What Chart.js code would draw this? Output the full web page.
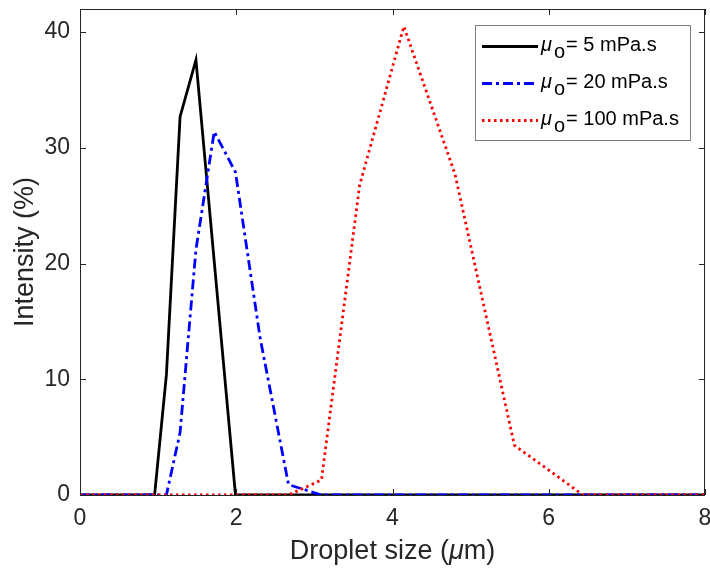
<!DOCTYPE html>
<html>
<head>
<meta charset="utf-8">
<script src="https://cdn.jsdelivr.net/npm/chart.js@4.4.0/dist/chart.umd.min.js"></script>
<style>
  html, body { margin: 0; padding: 0; background: #fff; }
  #wrap { width: 710px; height: 568px; }
</style>
</head>
<body>
<div id="wrap"><canvas id="chart" width="710" height="568"></canvas></div>
<script>
// droplet size bins (um) and intensity (%) for each oil viscosity
const sizes   = [0, 0.955, 1.106, 1.281, 1.484, 1.718, 1.990, 2.305, 2.669, 3.091, 3.580, 4.145, 4.801, 5.560, 6.439, 7.456, 8.635];
const mu5     = [0, 0,     10.4,  32.7,  37.6,  20.2,  0,     0,     0,     0,     0,     0,     0,     0,     0,     0,     0];
const mu20    = [0, 0,     0,     5.4,   21.2,  31.4,  27.9,  13.6,  0.9,   0,     0,     0,     0,     0,     0,     0,     0];
const mu100   = [0, 0,     0,     0,     0,     0,     0,     0,     0,     1.3,   26.8,  40.5,  27.7,  4.3,   0,     0,     0];
const seriesLabels = ['= 5 mPa.s', '= 20 mPa.s', '= 100 mPa.s'];
const xTicks = [0, 2, 4, 6, 8];
const yTicks = [0, 10, 20, 30, 40];

const FONT = '"Liberation Sans", Arial, Helvetica, sans-serif';
const AXIS = '#262626';

const pts = ys => sizes.map((x, i) => ({ x, y: ys[i] }));

const styles = [
  { color: '#000000', dash: [] },
  { color: '#0000ff', dash: [10, 4, 3, 4] },
  { color: '#ff0000', dash: [2.5, 3.5] }
];

// box, inward ticks, axis titles and the legend, drawn MATLAB-style
const decor = {
  id: 'decor',
  afterDraw(chart){
    const { ctx, chartArea: a, scales: { x, y } } = chart;
    ctx.save();
    ctx.strokeStyle = AXIS;
    ctx.lineWidth = 1;
    ctx.strokeRect(a.left + 0.5, a.top + 0.5, a.right - a.left - 1, a.bottom - a.top);
    const tl = 6;
    ctx.beginPath();
    xTicks.forEach(v => {
      const px = Math.round(x.getPixelForValue(v)) + 0.5;
      ctx.moveTo(px, a.bottom); ctx.lineTo(px, a.bottom - tl);
      ctx.moveTo(px, a.top); ctx.lineTo(px, a.top + tl);
    });
    yTicks.forEach(v => {
      const py = Math.round(y.getPixelForValue(v)) + 0.5;
      ctx.moveTo(a.left, py); ctx.lineTo(a.left + tl, py);
      ctx.moveTo(a.right, py); ctx.lineTo(a.right - tl, py);
    });
    ctx.stroke();

    // x title with italic mu
    ctx.fillStyle = AXIS;
    ctx.textBaseline = 'alphabetic';
    const big = '27px ' + FONT, bigI = 'italic 27px ' + FONT;
    const parts = [['Droplet size (', big], ['\u03bc', bigI], ['m)', big]];
    let w = 0;
    parts.forEach(p => { ctx.font = p[1]; w += ctx.measureText(p[0]).width; });
    let cx = (a.left + a.right) / 2 - w / 2;
    parts.forEach(p => { ctx.font = p[1]; ctx.fillText(p[0], cx, 559); cx += ctx.measureText(p[0]).width; });

    // y title
    ctx.save();
    ctx.translate(33, (a.top + a.bottom) / 2);
    ctx.rotate(-Math.PI / 2);
    ctx.font = big;
    ctx.textAlign = 'center';
    ctx.fillText('Intensity (%)', 0, 0);
    ctx.restore();

    // legend
    ctx.fillStyle = '#ffffff';
    ctx.fillRect(475, 25, 215, 115);
    ctx.strokeStyle = '#7f7f7f';
    ctx.strokeRect(475.5, 25.5, 215, 115);
    const rows = [46.5, 83.5, 120.5];
    rows.forEach((ry, i) => {
      ctx.save();
      ctx.strokeStyle = styles[i].color;
      ctx.lineWidth = 2.8;
      ctx.setLineDash(styles[i].dash);
      ctx.beginPath();
      ctx.moveTo(482, ry); ctx.lineTo(538, ry);
      ctx.stroke();
      ctx.restore();
      ctx.fillStyle = '#000';
      let tx = 541;
      const base = ry + 4.5;
      ctx.font = 'italic 20px ' + FONT;
      ctx.fillText('\u03bc', tx, base);
      tx += ctx.measureText('\u03bc').width + 2;
      ctx.font = '20px ' + FONT;
      ctx.fillText('o', tx, base + 7);
      tx += ctx.measureText('o').width + 1;
      ctx.fillText(seriesLabels[i], tx, base);
    });
    ctx.restore();
  }
};

new Chart(document.getElementById('chart'), {
  type: 'line',
  data: {
    datasets: [
      { label: seriesLabels[0], data: pts(mu5),   borderColor: styles[0].color, borderDash: styles[0].dash, borderWidth: 2.8, order: 3 },
      { label: seriesLabels[1], data: pts(mu20),  borderColor: styles[1].color, borderDash: styles[1].dash, borderWidth: 2.8, order: 2 },
      { label: seriesLabels[2], data: pts(mu100), borderColor: styles[2].color, borderDash: styles[2].dash, borderWidth: 2.8, order: 1 }
    ]
  },
  options: {
    responsive: false,
    animation: false,
    layout: { padding: { top: 9, right: 5, left: 0, bottom: 0 } },
    elements: { point: { radius: 0 }, line: { tension: 0, fill: false } },
    plugins: { legend: { display: false }, tooltip: { enabled: false } },
    scales: {
      x: {
        type: 'linear', min: 0, max: 8,
        afterFit(s){ s.height = 73; s.paddingLeft = 0; s.paddingRight = 0; },
        afterBuildTicks(s){ s.ticks = xTicks.map(v => ({ value: v })); },
        ticks: { font: { family: FONT, size: 23 }, color: AXIS, padding: 10, maxRotation: 0 },
        grid: { display: false, drawTicks: false },
        border: { display: false }
      },
      y: {
        min: 0, max: 42,
        afterFit(s){ s.width = 80; s.paddingTop = 0; s.paddingBottom = 0; },
        afterBuildTicks(s){ s.ticks = yTicks.map(v => ({ value: v })); },
        ticks: { font: { family: FONT, size: 23 }, color: AXIS, padding: 10 },
        grid: { display: false, drawTicks: false },
        border: { display: false }
      }
    }
  },
  plugins: [decor]
});
</script>
</body>
</html>
